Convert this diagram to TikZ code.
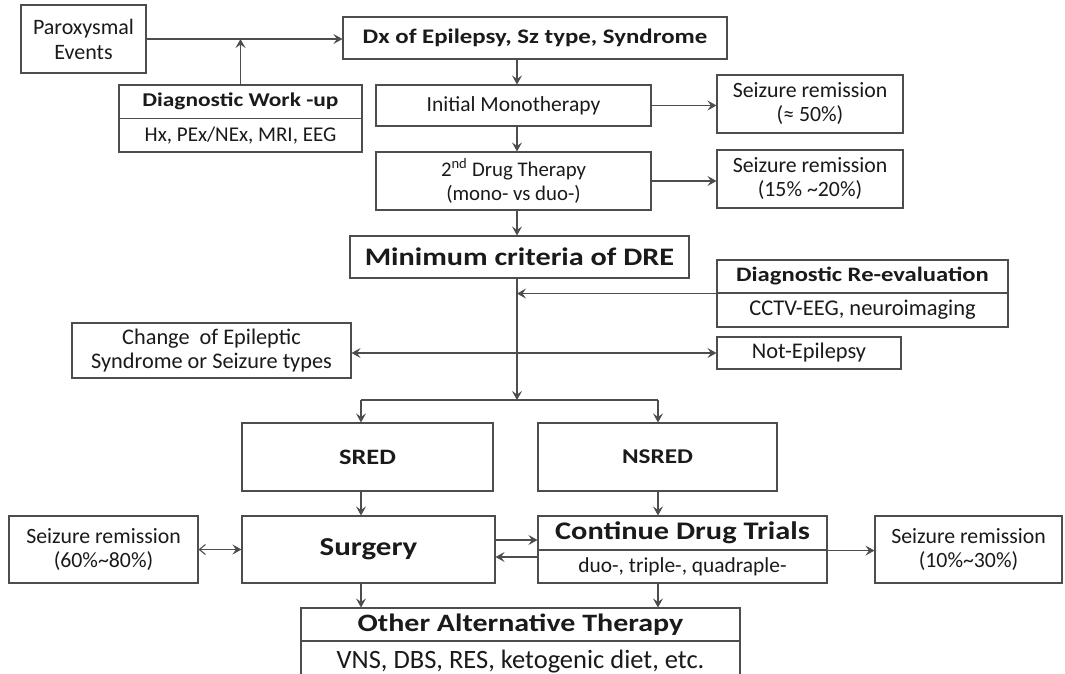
\documentclass[tikz,border=0pt]{standalone}
\usepackage{fontspec}
\setmainfont{Carlito}[BoldFeatures={FakeStretch=1.2}]
\usetikzlibrary{arrows.meta}
\definecolor{linec}{HTML}{4D4D4D}
\definecolor{textc}{HTML}{1A1A1A}
\begin{document}
\begin{tikzpicture}[x=1pt,y=-1pt,
  box/.style={draw=linec, fill=white, line width=1.1pt, inner sep=0pt, align=center, text=textc},
  arr/.style={draw=linec, line width=1.1pt, -{Stealth[length=9pt,width=10pt,inset=3.5pt]}},
  dbl/.style={draw=linec, line width=1.1pt, {Stealth[length=9pt,width=10pt,inset=3.5pt]}-{Stealth[length=9pt,width=10pt,inset=3.5pt]}},
  lnk/.style={draw=linec, line width=1.1pt},
  sr/.style={font=\fontsize{21.8}{24}\selectfont},
]
\useasboundingbox (0,0) rectangle (1065,673);
\clip (0,0) rectangle (1065,673);
\fill[white] (0,0) rectangle (1065,673);

% top row
\node[box,font=\fontsize{22}{25}\selectfont,minimum width=125,minimum height=68] (par) at (83.5,39) {Paroxysmal\\Events};
\node[box,font=\fontsize{20.7}{24}\selectfont\bfseries,minimum width=384,minimum height=42] (dx) at (535,38) {Dx of Epilepsy, Sz type, Syndrome};
\node[box,font=\fontsize{19.5}{22}\selectfont\bfseries,minimum width=243,minimum height=33.5] (wuA) at (240.5,101.75) {Diagnostic Work -up};
\node[box,font=\fontsize{21}{24}\selectfont,minimum width=243,minimum height=33.5] (wuB) at (240.5,135.25) {Hx, PEx/NEx, MRI, EEG};

\coordinate (colx) at (517,0);

\node[box,font=\fontsize{21.5}{25}\selectfont,minimum width=275,minimum height=41] (init) at (513.5,105.5) {Initial Monotherapy};
\node[box,sr,minimum width=186,minimum height=58] (srA) at (810,104) {Seizure remission\\(≈ 50\%)};
\node[box,font=\fontsize{20.8}{24}\selectfont,minimum width=275,minimum height=58] (drugB) at (513.5,181) {2\textsuperscript{nd} Drug Therapy\\(mono- vs duo-)};
\node[box,sr,minimum width=186,minimum height=58] (srB) at (810,179) {Seizure remission\\(15\% \textasciitilde20\%)};

\node[box,font=\fontsize{25.2}{30}\selectfont\bfseries,minimum width=339,minimum height=42] (minc) at (519.5,257) {Minimum criteria of DRE};
\node[box,font=\fontsize{20.5}{24}\selectfont\bfseries,minimum width=291,minimum height=33] (reevA) at (862.5,276.5) {Diagnostic Re-evaluation};
\node[box,font=\fontsize{22.5}{25}\selectfont,minimum width=291,minimum height=34] (reevB) at (862.5,310) {CCTV-EEG, neuroimaging};

\node[box,font=\fontsize{22.3}{24}\selectfont,minimum width=279,minimum height=55] (chg) at (211.5,350.5) {Change\ \ of Epileptic\\Syndrome or Seizure types};
\node[box,font=\fontsize{22.4}{25}\selectfont,minimum width=184,minimum height=32] (notep) at (809,353) {Not-Epilepsy};

\coordinate (bl) at (361,400);
\coordinate (brr) at (658,400);

\node[box,font=\fontsize{22}{25}\selectfont\bfseries,minimum width=251,minimum height=68] (sred) at (367.5,457) {SRED};
\node[box,font=\fontsize{21}{25}\selectfont\bfseries,minimum width=239,minimum height=68] (nsred) at (657.5,457) {NSRED};

\node[box,font=\fontsize{25.8}{30}\selectfont\bfseries,minimum width=253,minimum height=67] (surg) at (368.5,549.5) {Surgery};
\node[box,sr,minimum width=189,minimum height=67] (srl) at (103.5,549.5) {Seizure remission\\(60\%\textasciitilde80\%)};
\node[box,font=\fontsize{25.3}{30}\selectfont\bfseries,minimum width=289,minimum height=34] (cdtA) at (682.5,533) {Continue Drug Trials};
\node[box,font=\fontsize{21.4}{25}\selectfont,minimum width=289,minimum height=33] (cdtB) at (682.5,566.5) {duo-, triple-, quadraple-};
\node[box,sr,minimum width=187,minimum height=67] (srr) at (968.5,549.5) {Seizure remission\\(10\%\textasciitilde30\%)};

\node[box,font=\fontsize{25}{30}\selectfont\bfseries,minimum width=439,minimum height=33] (oatA) at (520.5,624.5) {Other Alternative Therapy};
\node[box,minimum width=439,minimum height=60,anchor=north] (oatB) at (520.5,641) {};
\node[font=\fontsize{26.5}{30}\selectfont,text=textc,inner sep=0pt,anchor=base] (oatT) at (520.5,668.5) {VNS, DBS, RES, ketogenic diet, etc.};

% connectors
\draw[arr] (par.east) -- (par.east -| dx.west);
\draw[arr] (wuA.north) -- (wuA.north |- par.east);
\draw[arr] (dx.south -| colx) -- (init.north -| colx);
\draw[arr] (init.south -| colx) -- (drugB.north -| colx);
\draw[arr] (drugB.south -| colx) -- (minc.north -| colx);
\draw[arr] (init.east) -- (init.east -| srA.west);
\draw[arr] (drugB.east) -- (drugB.east -| srB.west);
\draw[arr] (minc.south -| colx) -- (colx |- bl);
\draw[arr] (reevA.south west) -- (reevA.south west -| colx);
\draw[dbl] (notep.west -| chg.east) -- (notep.west);
\draw[lnk] (bl) -- (brr);
\draw[arr] (bl) -- (bl |- sred.north);
\draw[arr] (brr) -- (brr |- nsred.north);
\draw[arr] (sred.south -| bl) -- (surg.north -| bl);
\draw[arr] (nsred.south -| brr) -- (cdtA.north -| brr);
\draw[draw=linec, line width=1.1pt, {Straight Barb[length=6pt,width=10pt]}-{Stealth[length=9pt,width=10pt,inset=3.5pt]}] (srl.east) -- (surg.west);
\draw[arr] ([yshift=9.5pt]surg.east) -- ([yshift=9.5pt]surg.east -| cdtA.west);
\draw[arr] ([yshift=-7.5pt]surg.east -| cdtA.west) -- ([yshift=-7.5pt]surg.east);
\draw[arr] (cdtA.south east) -- (cdtA.south east -| srr.west);
\draw[arr] (surg.south -| bl) -- (oatA.north -| bl);
\draw[arr] (cdtB.south -| brr) -- (oatA.north -| brr);
\end{tikzpicture}
\end{document}
